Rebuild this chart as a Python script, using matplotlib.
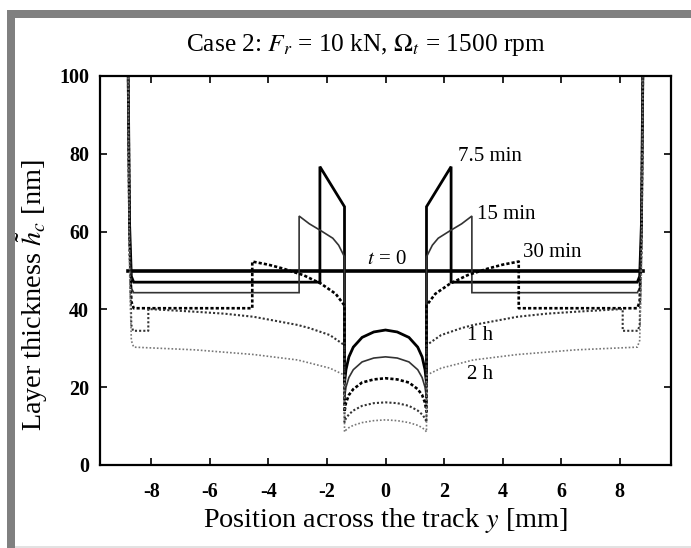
import matplotlib
matplotlib.use('Agg')
from matplotlib import pyplot as plt
from matplotlib.patches import Rectangle
import numpy as np

plt.rcParams['font.family'] = ['Liberation Serif', 'DejaVu Serif']
plt.rcParams['mathtext.fontset'] = 'stix'
plt.rcParams['axes.unicode_minus'] = False

# half-track profiles (track position >= 0), the track is symmetric about y = 0
arc_pos = [0, 0.4, 0.8, 1.1, 1.25, 1.35, 1.4]

pos_t0 = [0, 8.78]
h_t0 = [50, 50]

pos_75 = arc_pos + [1.4, 2.24, 2.24, 8.6, 8.68, 8.74, 8.8]
h_75 = [34.7, 34.2, 32.8, 30.3, 27.8, 24.5, 21.0,
        66.4, 76.7, 47.0, 47.0, 48.5, 62, 110]

pos_15 = arc_pos + [1.4, 1.6, 1.8, 2.2, 2.6, 2.95, 2.95, 8.6, 8.68, 8.74, 8.8]
h_15 = [27.8, 27.5, 26.5, 24.5, 22.5, 20.0, 17.2,
        53.5, 56.5, 58.3, 60.2, 62.0, 64.0, 44.3, 44.3, 45.5, 60, 110]

pos_30 = arc_pos + [1.4, 1.7, 2.2, 2.8, 3.5, 4.0, 4.55, 4.55, 8.6, 8.68, 8.74, 8.8]
h_30 = [22.3, 22.0, 21.2, 19.5, 18.0, 16.0, 13.7,
        41.0, 44.0, 46.6, 48.8, 50.5, 51.5, 52.3, 40.3, 40.3, 42, 58, 110]

pos_1h = arc_pos + [1.4, 1.9, 2.6, 3.0, 4.5, 5.5, 6.5, 8.1, 8.1, 8.62, 8.68, 8.74, 8.8]
h_1h = [16.1, 15.9, 15.2, 14.0, 13.0, 12.0, 11.0,
        30.8, 33.4, 35.2, 36.0, 38.1, 38.9, 39.4, 40.1, 34.5, 34.5, 36, 55, 110]

pos_2h = arc_pos + [1.4, 1.9, 3.0, 4.5, 6.5, 8.6, 8.68, 8.74, 8.8]
h_2h = [11.6, 11.4, 10.9, 10.2, 9.6, 9.0, 8.5,
        23.1, 24.9, 27.0, 28.4, 29.6, 30.3, 32, 50, 110]

curves = [
    (pos_t0, h_t0, dict(color='black', lw=2.6, ls='-')),
    (pos_75, h_75, dict(color='black', lw=2.0, ls='-')),
    (pos_15, h_15, dict(color='#333333', lw=1.2, ls='-')),
    (pos_30, h_30, dict(color='black', lw=1.9, ls=(0, (1.2, 0.8)))),
    (pos_1h, h_1h, dict(color='#333333', lw=1.5, ls=(0, (1, 1)))),
    (pos_2h, h_2h, dict(color='#777777', lw=1.2, ls=(0, (1, 1.2)))),
]

labels = ['7.5 min', '15 min', '30 min', '$t$ = 0', '1 h', '2 h']
label_x = [2.46, 3.14, 4.68, 0.05, 2.8, 2.8]
label_y = [79.2, 64.4, 54.6, 52.7, 33.3, 23.3]
label_ha = ['left', 'left', 'left', 'center', 'left', 'left']

fig = plt.figure(figsize=(6.91, 5.48), dpi=100)
fig.patch.set_facecolor('white')

# grey scan frame
fig.patches.append(Rectangle((7 / 691, 0), 8 / 691, 1 - 10 / 548, transform=fig.transFigure,
                             facecolor='#808080', edgecolor='none'))
fig.patches.append(Rectangle((7 / 691, 1 - 18 / 548), 1, 8 / 548, transform=fig.transFigure,
                             facecolor='#808080', edgecolor='none'))
fig.patches.append(Rectangle((15 / 691, 0.5 / 548), 1, 2 / 548, transform=fig.transFigure,
                             facecolor='#e2e2e2', edgecolor='none'))

ax = fig.add_axes([100 / 691, 83 / 548, 571 / 691, 389 / 548])

for pos, h, style in curves:
    pos = np.array(pos)
    h = np.array(h)
    x = np.concatenate([-pos[::-1], pos])
    y = np.concatenate([h[::-1], h])
    ax.plot(x, y, solid_joinstyle='miter', **style)

for txt, x, y, ha in zip(labels, label_x, label_y, label_ha):
    ax.text(x, y, txt, fontsize=15, ha=ha, va='center')

ax.set_xlim(-9.75, 9.75)
ax.set_ylim(0, 100)
ax.set_xticks(np.arange(-8, 9, 2))
ax.set_yticks(np.arange(0, 101, 20))
ax.tick_params(direction='in', top=True, right=True, length=5, width=1.2,
               labelsize=14.5)
ax.tick_params(axis='x', pad=12)
ax.tick_params(axis='y', pad=8)
for lab in ax.get_xticklabels() + ax.get_yticklabels():
    lab.set_fontweight('bold')
for s in ax.spines.values():
    s.set_linewidth(1.6)

ax.set_title('Case 2: $F_r$ = 10 kN, $\\Omega_t$ = 1500 rpm', fontsize=18.3, pad=18, x=0.465)
ax.set_xlabel('Position across the track $y$ [mm]', fontsize=20.3, labelpad=3)
ax.set_ylabel('Layer thickness $\\tilde{h}_c$ [nm]', fontsize=20.3)
ax.yaxis.set_label_coords(-0.087, 0.437)

fig.savefig('out.png', dpi=100)
